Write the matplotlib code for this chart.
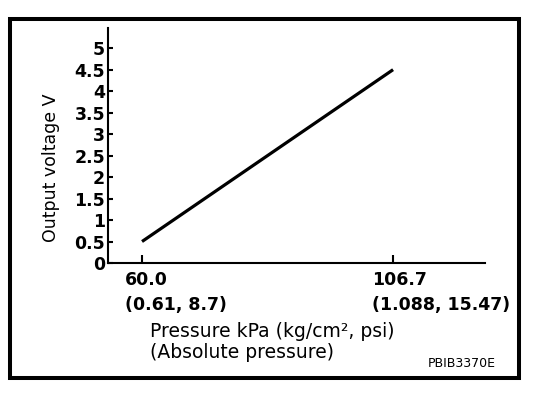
import matplotlib.pyplot as plt
from matplotlib.patches import Rectangle

# data
pressure_kpa = [60.0, 106.7]
output_v = [0.5, 4.5]
x_ticks = [60.0, 106.7]
x_tick_top = ["60.0", "106.7"]
x_tick_bottom = ["(0.61, 8.7)", "(1.088, 15.47)"]
y_ticks = [0, 0.5, 1, 1.5, 2, 2.5, 3, 3.5, 4, 4.5, 5]
y_tick_labels = ["0", "0.5", "1", "1.5", "2", "2.5", "3", "3.5", "4", "4.5", "5"]

W, H = 560, 394
fig = plt.figure(figsize=(W / 100, H / 100), dpi=100)


def fx(px):
    return px / W


def fy(py):
    return 1 - py / H


# outer frame
fig.patches.append(Rectangle((fx(10), fy(378)), fx(519) - fx(10), fy(19) - fy(378),
                             transform=fig.transFigure, fill=False,
                             edgecolor="black", linewidth=2.9))

ax = fig.add_axes([fx(108), fy(263), fx(485) - fx(108), fy(28) - fy(263)])
ax.plot(pressure_kpa, output_v, color="black", linewidth=2.3, solid_capstyle="butt")

ax.set_xlim(53.67, 123.8)
ax.set_ylim(0, 5.47)
for s in ["top", "right"]:
    ax.spines[s].set_visible(False)
for s in ["left", "bottom"]:
    ax.spines[s].set_linewidth(1.5)

ax.set_yticks(y_ticks)
ax.set_yticklabels(y_tick_labels, fontsize=12.5, fontweight="bold")
ax.tick_params(axis="y", direction="in", length=3.6, width=1.5, pad=2)
ax.set_xticks(x_ticks)
ax.set_xticklabels([])
ax.tick_params(axis="x", direction="in", length=5.8, width=1.5)

# two-line tick labels, left aligned a bit left of each tick
offsets = [-17, -21]
for xv, top, bot, off in zip(x_ticks, x_tick_top, x_tick_bottom, offsets):
    ax.annotate(top, xy=(xv, 0), xycoords=("data", "axes fraction"),
                xytext=(off, -22), textcoords="offset pixels",
                ha="left", va="baseline", fontsize=12.5, fontweight="bold")
    ax.annotate(bot, xy=(xv, 0), xycoords=("data", "axes fraction"),
                xytext=(off, -47), textcoords="offset pixels",
                ha="left", va="baseline", fontsize=12.5, fontweight="bold")

fig.text(fx(150), fy(337), "Pressure kPa (kg/cm\u00b2, psi)", fontsize=13.5,
         ha="left", va="baseline")
fig.text(fx(150), fy(358), "(Absolute pressure)", fontsize=13.5,
         ha="left", va="baseline")
fig.text(fx(51), fy(168), "Output voltage V", fontsize=12.5, rotation=90,
         ha="center", va="center")
fig.text(fx(428), fy(367), "PBIB3370E", fontsize=9, ha="left", va="baseline")

fig.savefig("out.png", dpi=100)
